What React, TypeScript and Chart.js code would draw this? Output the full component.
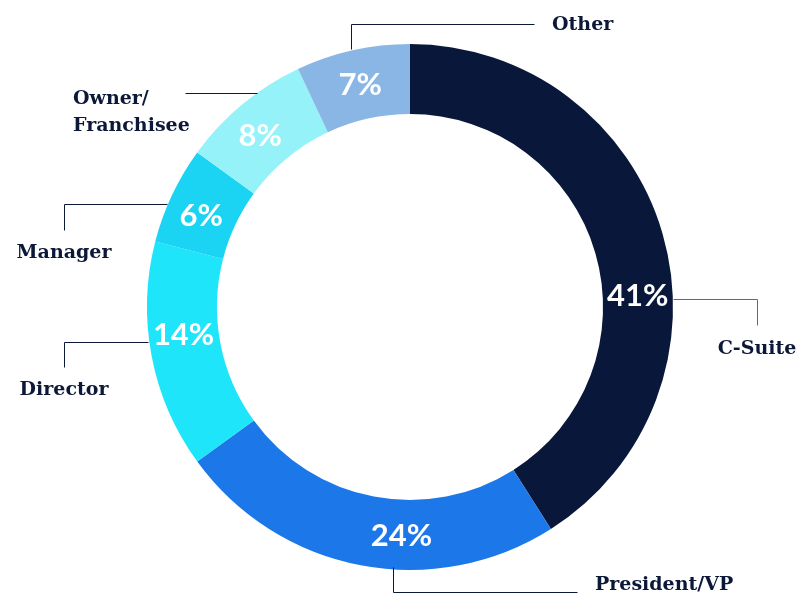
import { useEffect, useRef } from "react"
import { Chart, registerables } from "chart.js"

Chart.register(...registerables)

// roles, in clockwise order from 12 o'clock
const roles = ["C-Suite", "President/VP", "Director", "Manager", "Owner/\nFranchisee", "Other"]
const shares = [41, 24, 14, 6, 8, 7]
const colors = ["#09183a", "#1c78e8", "#1fe5fa", "#1bd3f2", "#95f2f8", "#8ab6e6"]
// where along each slice the % label sits (0 = start, 1 = end)
const labelAlong = [0.59, 0.4, 0.58, 0.43, 0.45, 0.5]

const ink = "#0c1838"
const pctFont = "bold 31px Lato"
const captionFont = "bold 19px 'DejaVu Serif'"

// leader lines + captions, relative to the ring centre
type Callout = {
  path: [number, number][]
  text: [number, number]
  align: CanvasTextAlign
  stroke: string
}
const callouts: Callout[] = [
  { path: [[263, -8], [347, -8], [347, 18]], text: [347, 42], align: "center", stroke: "#5f6984" },
  { path: [[-17, 260], [-17, 285], [167, 285]], text: [185, 278], align: "left", stroke: ink },
  { path: [[-262, 35], [-346, 35], [-346, 60]], text: [-346, 83], align: "center", stroke: ink },
  { path: [[-243, -103], [-346, -103], [-346, -77]], text: [-346, -54], align: "center", stroke: ink },
  { path: [[-153, -214], [-225, -214]], text: [-337, -208], align: "left", stroke: ink },
  { path: [[-59, -258], [-59, -283], [124, -283]], text: [142, -282], align: "left", stroke: ink },
]

const ringLabels = {
  id: "ringLabels",
  afterDraw(chart: Chart) {
    const ctx = chart.ctx
    const arcs = chart.getDatasetMeta(0).data as any[]
    if (!arcs.length) return
    const cx = arcs[0].x
    const cy = arcs[0].y
    ctx.save()

    // percentages inside the ring
    ctx.fillStyle = "#ffffff"
    ctx.font = pctFont
    ctx.textAlign = "center"
    ctx.textBaseline = "middle"
    arcs.forEach((arc, i) => {
      const a = arc.startAngle + labelAlong[i] * (arc.endAngle - arc.startAngle)
      const r = (arc.innerRadius + arc.outerRadius) / 2
      ctx.fillText(shares[i] + "%", arc.x + r * Math.cos(a), arc.y + r * Math.sin(a) + 1)
    })

    // leader lines, snapped to half pixels so they stay crisp
    ctx.lineWidth = 1
    callouts.forEach((c) => {
      ctx.strokeStyle = c.stroke
      ctx.beginPath()
      c.path.forEach(([x, y], j) => {
        const px = Math.round(cx + x) + 0.5
        const py = Math.round(cy + y) + 0.5
        if (j === 0) ctx.moveTo(px, py)
        else ctx.lineTo(px, py)
      })
      ctx.stroke()
    })

    // captions
    ctx.fillStyle = ink
    ctx.font = captionFont
    callouts.forEach((c, i) => {
      ctx.textAlign = c.align
      const lines = roles[i].split("\n")
      lines.forEach((line, k) => {
        ctx.fillText(line, cx + c.text[0], cy + c.text[1] + k * 27)
      })
    })
    ctx.restore()
  },
}

export default function RoleDoughnut() {
  const canvasRef = useRef<HTMLCanvasElement | null>(null)

  useEffect(() => {
    document.body.style.margin = "0"
    let chart: Chart | null = null
    let cancelled = false

    Promise.all([document.fonts.load(pctFont), document.fonts.load(captionFont)])
      .catch(() => null)
      .then(() => {
        if (cancelled || !canvasRef.current) return
        chart = new Chart(canvasRef.current, {
          type: "doughnut",
          data: {
            labels: roles,
            datasets: [
              {
                data: shares,
                backgroundColor: colors,
                borderWidth: 0,
                hoverOffset: 0,
              },
            ],
          },
          options: {
            animation: false,
            responsive: true,
            maintainAspectRatio: false,
            cutout: "73.4%",
            layout: { padding: { top: 44, bottom: 44, left: 11, right: 0 } },
            plugins: {
              legend: { display: false },
              tooltip: { enabled: false },
            },
          },
          plugins: [ringLabels],
        })
      })

    return () => {
      cancelled = true
      chart?.destroy()
    }
  }, [])

  return (
    <div style={{ position: "relative", width: 809, height: 614 }}>
      <canvas ref={canvasRef}></canvas>
    </div>
  )
}
